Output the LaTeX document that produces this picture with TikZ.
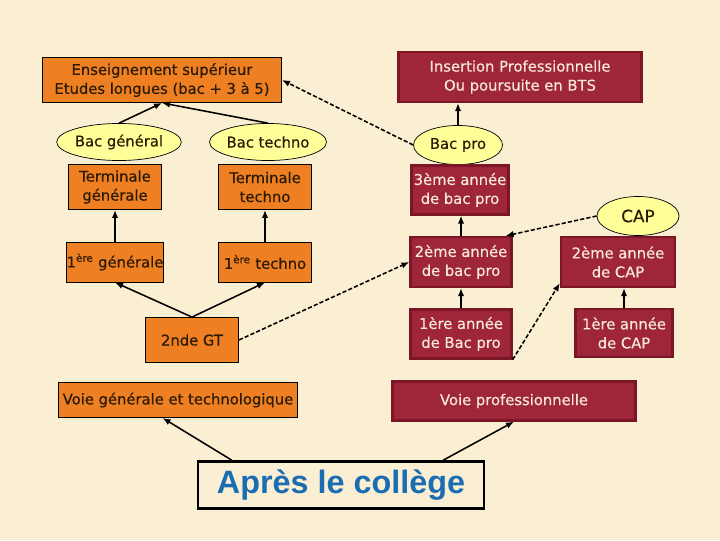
\documentclass[tikz,border=0pt]{standalone}
\usepackage{fontspec}
\setmainfont{DejaVu Sans}[FakeBold=0.4]
\newfontfamily\collegefont{Liberation Sans}
\usepackage{xcolor}
\definecolor{orbg}{HTML}{FBEFD3}
\definecolor{orfill}{HTML}{EE7F22}
\definecolor{orred}{HTML}{9E2638}
\definecolor{orredline}{HTML}{7A1626}
\definecolor{orbac}{HTML}{FFFF99}
\definecolor{orblue}{HTML}{1B6DB3}
\definecolor{orlight}{HTML}{F7E9D4}
\definecolor{orink}{HTML}{2B1B05}
\usetikzlibrary{arrows.meta,shapes.geometric}
\tikzset{
  orbox/.style={draw=black,line width=0.6pt,fill=orfill,inner sep=0pt,align=center,font=\fontsize{10.5}{13.5}\selectfont,text=orink},
  redbox/.style={draw=orredline,line width=1.6pt,fill=orred,inner sep=0pt,align=center,font=\fontsize{10.5}{13.5}\selectfont,text=orlight},
  bacoval/.style={ellipse,draw=black,line width=0.5pt,fill=orbac,inner sep=0pt,font=\fontsize{10.5}{12}\selectfont,text=orink},
  orflow/.style={-{Latex[length=2mm,width=1.6mm]},line width=1.1pt},
  ordash/.style={-{Latex[length=2mm,width=1.6mm]},line width=1.1pt,dash pattern=on 3pt off 1.5pt},
}

\begin{document}
\begin{tikzpicture}[x=0.025cm,y=-0.025cm]
\fill[orbg] (0,0) rectangle (720,540);
\useasboundingbox (0,0) rectangle (720,540);
\node[orbox,minimum width=5.975cm,minimum height=1.125cm] (ens) at (162,80) {Enseignement supérieur\\Etudes longues (bac + 3 à 5)};
\node[redbox,minimum width=6.075cm,minimum height=1.25cm] (ins) at (520,77) {Insertion Professionnelle\\Ou poursuite en BTS};
\node[bacoval,minimum width=2.225cm,minimum height=0.925cm] (bacgen) at (119,142) {Bac général};
\node[bacoval,minimum width=2.225cm,minimum height=0.925cm] (bactech) at (268,142) {Bac techno};
\node[bacoval,minimum width=2.225cm,minimum height=0.975cm] (bacpro) at (458,145) {Bac pro};
\node[bacoval,minimum width=2.05cm,minimum height=0.975cm,font=\fontsize{12}{13}\selectfont] (cap) at (638,216) {CAP};
\node[orbox,minimum width=2.325cm,minimum height=1.125cm] (tgen) at (115,187) {Terminale\\générale};
\node[orbox,minimum width=2.325cm,minimum height=1.125cm] (ttech) at (265,187) {Terminale\\techno};
\node[redbox,minimum width=2.425cm,minimum height=1.225cm] (bp3) at (460,190) {3ème année\\de bac pro};
\node[orbox,minimum width=2.325cm,minimum height=1cm] (pgen) at (115,262) {1\textsuperscript{ère} générale};
\node[orbox,minimum width=2.325cm,minimum height=1cm] (ptech) at (265,262) {1\textsuperscript{ère} techno};
\node[redbox,minimum width=2.525cm,minimum height=1.25cm] (bp2) at (461,262) {2ème année\\de bac pro};
\node[redbox,minimum width=2.85cm,minimum height=1.25cm] (cap2) at (618,262) {2ème année\\de CAP};
\node[orbox,minimum width=2.325cm,minimum height=1.125cm] (gt) at (192,340) {2nde GT};
\node[redbox,minimum width=2.525cm,minimum height=1.225cm] (bp1) at (461,334) {1ère année\\de Bac pro};
\node[redbox,minimum width=2.425cm,minimum height=1.2cm] (cap1) at (624,333) {1ère année\\de CAP};
\node[orbox,minimum width=5.975cm,minimum height=0.875cm] (vgt) at (178,400) {Voie générale et technologique};
\node[redbox,minimum width=6.075cm,minimum height=0.975cm] (vpro) at (514,401) {Voie professionnelle};
\node[draw=black,line width=1.8pt,inner sep=0pt,minimum width=7.15cm,minimum height=1.175cm,text=orblue,font=\collegefont\bfseries\fontsize{23}{25}\selectfont] (college) at (341,485) {Après le collège};
\draw[orflow] (bacgen.north) -- (ens.south);
\draw[orflow] (bactech.north) -- (ens.south);
\draw[ordash] (bacpro.west) -- (ens.east);
\draw[orflow] (bacpro.north) -- (bacpro.north |- ins.south);
\draw[orflow] (pgen.north) -- (tgen.south);
\draw[orflow] (ptech.north) -- (ttech.south);
\draw[orflow] (gt.north) -- (pgen.south);
\draw[orflow] (gt.north) -- (ptech.south);
\draw[ordash] (gt.east) -- (bp2.west);
\draw[orflow] (bp2.north) -- (bp2.north |- bp3.south);
\draw[orflow] (bp1.north) -- (bp2.south);
\draw[orflow] (cap1.north) -- (cap1.north |- cap2.south);
\draw[ordash] (cap.west) -- ([xshift=-5pt]bp2.north east);
\draw[ordash] (bp1.south east) -- (cap2.200);
\draw[orflow] ([xshift=25pt]college.north west) -- ([xshift=-11pt]vgt.south);
\draw[orflow] ([xshift=-30pt]college.north east) -- (vpro.south);
\end{tikzpicture}
\end{document}
